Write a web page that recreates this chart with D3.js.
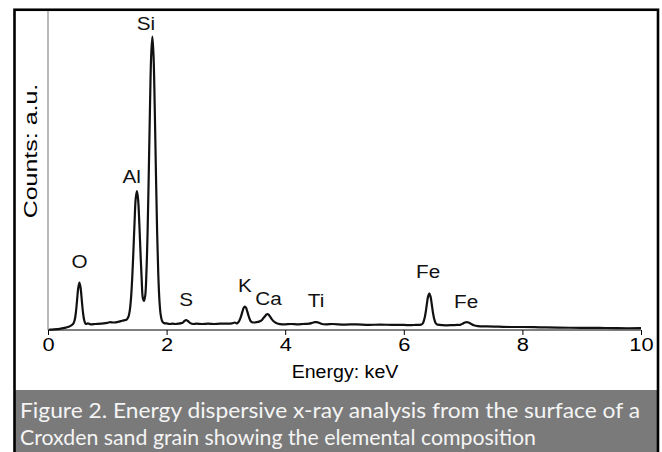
<!DOCTYPE html>
<html>
<head>
<meta charset="utf-8">
<script src="https://cdn.jsdelivr.net/npm/d3@7"></script>
<style>
  html, body { margin: 0; padding: 0; background: #fff; }
  svg { display: block; }
</style>
</head>
<body>
<svg id="chart" width="662" height="452"></svg>
<script>
// ---- Data ----
// Energy in keV
const energy = [
  0.02, 0.10, 0.20, 0.26, 0.30, 0.35, 0.40, 0.43, 0.45, 0.47, 0.49, 0.51, 0.53, 0.55, 0.57, 0.59, 0.61, 0.63, 0.65,
  0.67, 0.72, 0.80, 0.90, 1.00, 1.05, 1.10, 1.20, 1.25,
  1.30, 1.32, 1.34, 1.36, 1.38, 1.40, 1.42, 1.44, 1.46, 1.48, 1.50, 1.52, 1.54, 1.56, 1.58, 1.60, 1.62, 1.64, 1.66, 1.68,
  1.70, 1.72, 1.74, 1.76, 1.78, 1.80, 1.82, 1.84, 1.86, 1.88, 1.90, 1.92, 1.94, 1.96,
  2.00, 2.05, 2.10, 2.15, 2.20, 2.25, 2.27, 2.30, 2.33, 2.36, 2.40, 2.45, 2.50, 2.60, 2.70, 2.80, 2.90, 3.00, 3.10, 3.15,
  3.18, 3.20, 3.22, 3.24, 3.26, 3.28, 3.30, 3.32, 3.34, 3.36, 3.38, 3.40, 3.42, 3.44, 3.48, 3.52,
  3.56, 3.60, 3.63, 3.66, 3.68, 3.70, 3.72, 3.74, 3.77, 3.80, 3.84, 3.88, 3.95,
  4.00, 4.10, 4.20, 4.30, 4.40, 4.46, 4.50, 4.53, 4.57, 4.62, 4.70, 4.80, 5.00, 5.20, 5.40, 5.60, 5.80, 6.00, 6.10, 6.20,
  6.29, 6.31, 6.33, 6.35, 6.37, 6.39, 6.41, 6.43, 6.45, 6.47, 6.49, 6.51, 6.53, 6.55, 6.57, 6.65, 6.80, 6.90,
  6.95, 7.00, 7.03, 7.06, 7.09, 7.13, 7.18, 7.25, 7.40, 7.60, 7.80, 8.00, 8.30, 8.60, 9.00, 9.30, 9.60, 10.00
];
// Counts in arbitrary units
const counts = [
  0.1, 0.2, 0.4, 0.6, 0.8, 1.1, 1.6, 2.2, 3.3, 5.8, 9.9, 14.0, 15.8, 14.0, 9.9, 5.8, 3.3, 2.2, 2.0,
  2.2, 1.9, 2.0, 2.1, 2.4, 2.6, 2.5, 2.8, 3.1,
  3.3, 3.4, 3.8, 4.6, 6.6, 10.6, 17.2, 26.2, 36.1, 44.0, 46.3, 43.4, 35.5, 25.7, 16.8, 10.6, 9.7, 11.5, 19.2, 33.2,
  52.9, 74.4, 91.5, 97.8, 91.2, 74.1, 52.6, 32.8, 18.4, 9.6, 5.1, 3.2, 2.5, 2.3,
  2.2, 2.0, 2.1, 2.0, 2.1, 2.3, 2.4, 3.0, 3.3, 3.0, 2.3, 2.0, 2.1, 2.0, 2.1, 2.0, 2.1, 2.1, 2.2, 2.5,
  2.2, 2.4, 2.9, 3.7, 4.9, 6.2, 7.4, 7.8, 7.4, 6.2, 4.9, 3.7, 2.9, 2.6, 2.5, 2.6,
  2.8, 3.2, 3.9, 4.6, 5.1, 5.3, 5.1, 4.6, 3.7, 3.0, 2.4, 2.1, 1.9,
  1.9, 2.0, 1.9, 2.0, 2.1, 2.4, 2.6, 2.6, 2.4, 2.0, 1.9, 2.0, 1.8, 1.9, 1.7, 1.8, 1.7, 1.7, 1.6, 1.7,
  1.8, 2.0, 2.6, 3.9, 6.0, 8.8, 11.2, 12.2, 11.2, 8.8, 6.0, 3.9, 2.6, 2.0, 1.8, 1.6, 1.6, 1.7,
  1.7, 2.2, 2.5, 2.6, 2.5, 2.1, 1.6, 1.3, 1.2, 1.1, 1.0, 1.0, 0.9, 0.8, 0.7, 0.7, 0.6, 0.6
];
// Peak labels
const peakNames   = ["O", "Al", "Si", "S", "K", "Ca", "Ti", "Fe", "Fe"];
const peakEnergy  = [0.53, 1.41, 1.65, 2.33, 3.32, 3.72, 4.52, 6.41, 7.05];
const peakLabelAt = [20.7, 49.0, 100, 8.0, 12.7, 8.3, 7.8, 17.3, 7.3];
const xTicks = [0, 2, 4, 6, 8, 10];
const xTitle = "Energy: keV";
const yTitle = "Counts: a.u.";
const captionLines = [
  "Figure 2. Energy dispersive x-ray analysis from the surface of a",
  "Croxden sand grain showing the elemental composition"
];

// ---- Drawing ----
const svg = d3.select("#chart");
const FONT = "Liberation Sans, Arial, sans-serif";
const STRETCH = 1.12;

const x = d3.scaleLinear().domain([0, 10]).range([48, 641]);
const y = d3.scaleLinear().domain([0, 100]).range([330, 30]);

// caption box
svg.append("rect")
  .attr("x", 14).attr("y", 390).attr("width", 644).attr("height", 70)
  .attr("fill", "#7a7a7a");

// outer frame
svg.append("rect")
  .attr("x", 14.5).attr("y", 9.75).attr("width", 643.5).attr("height", 460)
  .attr("fill", "none").attr("stroke", "#000").attr("stroke-width", 2.6);

// y axis line (grey)
svg.append("line")
  .attr("x1", x(0)).attr("x2", x(0))
  .attr("y1", 11).attr("y2", y(0))
  .attr("stroke", "#8a8a8a").attr("stroke-width", 1.2);

// x axis
const xAxis = d3.axisBottom(x).tickValues(xTicks).tickSize(5).tickPadding(3)
  .tickFormat(d3.format("d"));
const gx = svg.append("g").attr("transform", `translate(0,${y(0)})`).call(xAxis);
gx.select(".domain").attr("stroke", "#000").attr("stroke-width", 1.2)
  .attr("d", `M${x(0)},0H${x(10)}`);
gx.selectAll(".tick line").attr("stroke", "#000").attr("stroke-width", 1);
gx.selectAll(".tick text")
  .attr("font-family", FONT)
  .attr("font-size", 19).attr("fill", "#000")
  .attr("transform", "scale(1.15,1)");

// axis titles
svg.append("text")
  .attr("transform", `translate(345,378) scale(${STRETCH},1)`)
  .attr("text-anchor", "middle")
  .attr("font-family", FONT)
  .attr("font-size", 17.5).attr("fill", "#000")
  .text(xTitle);
svg.append("text")
  .attr("transform", "translate(37,151) rotate(-90) scale(1.35,1)")
  .attr("text-anchor", "middle")
  .attr("font-family", FONT)
  .attr("font-size", 18.5).attr("fill", "#000")
  .text(yTitle);

// spectrum
const pts = energy.map((e, i) => [e, counts[i]]);
const line = d3.line()
  .x(d => x(d[0])).y(d => y(d[1]))
  .curve(d3.curveCatmullRom.alpha(0.5));
svg.append("path")
  .datum(pts)
  .attr("d", line)
  .attr("fill", "none").attr("stroke", "#111")
  .attr("stroke-width", 2.2).attr("stroke-linejoin", "round");

// peak labels
svg.selectAll("text.peak")
  .data(peakNames.map((n, i) => ({ n, e: peakEnergy[i], c: peakLabelAt[i] })))
  .enter().append("text")
  .attr("class", "peak")
  .attr("transform", d => `translate(${x(d.e)},${y(d.c)}) scale(${STRETCH},1)`)
  .attr("text-anchor", "middle")
  .attr("font-family", FONT)
  .attr("font-size", 18.5).attr("fill", "#111")
  .text(d => d.n);

// caption
svg.selectAll("text.cap")
  .data(captionLines)
  .enter().append("text")
  .attr("class", "cap")
  .attr("x", 20).attr("y", (d, i) => 418 + i * 27)
  .attr("font-family", "Lato, 'Open Sans', sans-serif")
  .attr("font-size", 22).attr("fill", "#f4f4f4")
  .attr("textLength", (d, i) => i === 0 ? 620 : 516)
  .attr("lengthAdjust", "spacingAndGlyphs")
  .text(d => d);
</script>
</body>
</html>
